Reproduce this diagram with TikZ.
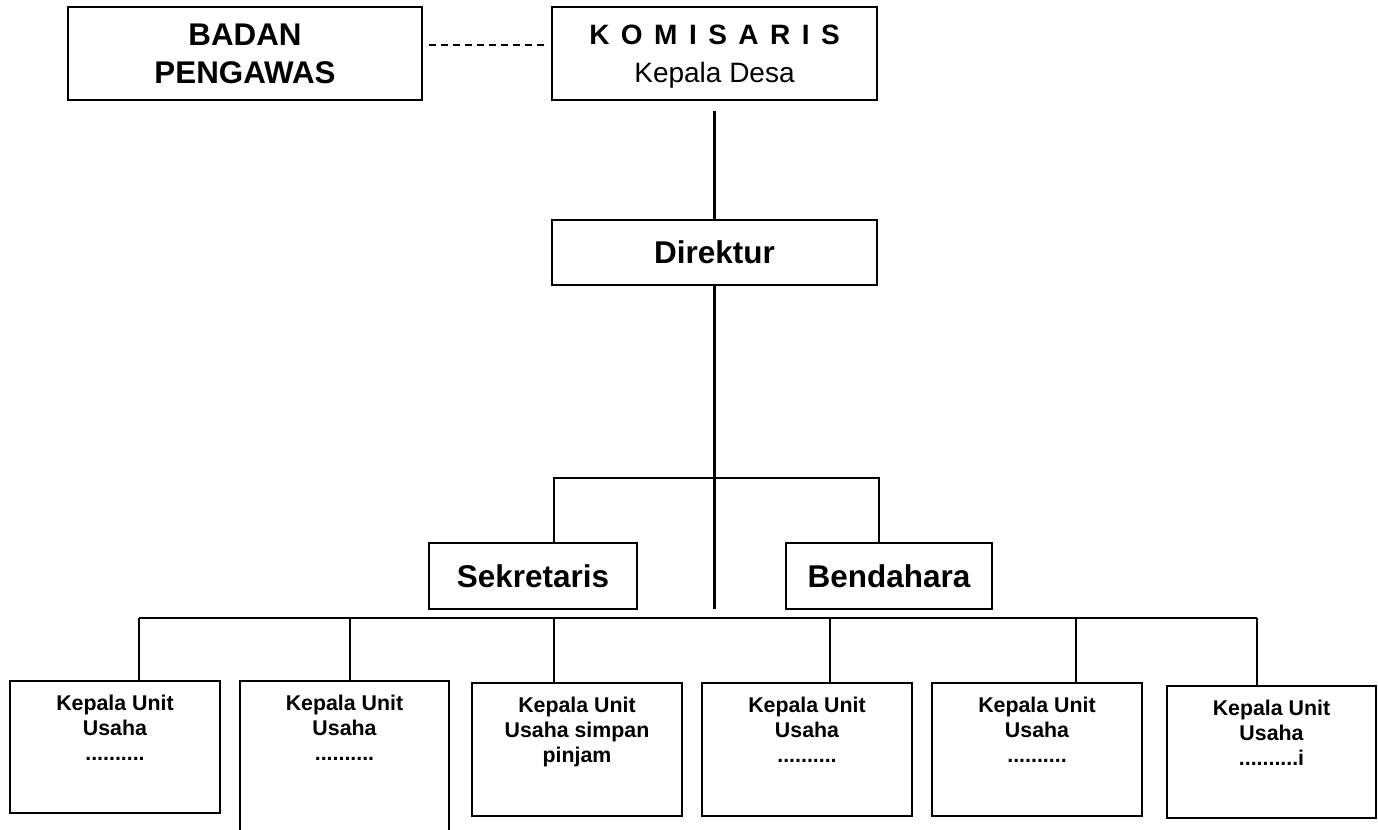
\documentclass[tikz,border=0pt]{standalone}
\usepackage{fontspec}
\setmainfont{Liberation Sans}
\usetikzlibrary{calc}
\begin{document}
\begin{tikzpicture}[x=0.75pt,y=-0.75pt,
  box/.style={draw, line width=1.8pt, inner sep=0pt, align=center},
  conn/.style={line width=1.6pt},
  dashconn/.style={line width=1.3pt, dash pattern=on 5.25pt off 3.75pt},
  bigfont/.style={font=\fontsize{23.6}{28}\selectfont\bfseries},
  utext/.style={inner sep=0pt, align=center, anchor=north, font=\fontsize{16}{18.75}\selectfont\bfseries}]
\useasboundingbox (0,0) rectangle (1378,829);
\clip (0,0) rectangle (1378,829);

% top level
\node[box, minimum width=265.5pt, minimum height=69.75pt, font=\fontsize{23.5}{28.5}\selectfont\bfseries] (badan) at (245,53.5) {BADAN\\PENGAWAS};
\node[box, minimum width=243.75pt, minimum height=69.75pt, text depth=0pt, font=\fontsize{21}{28.5}\selectfont] (komis) at (714.5,53.5)
  {{\bfseries\spaceskip=8.6pt K O M I S A R I S}\\{\fontsize{21}{28.5}\selectfont Kepala Desa}};
\node[box, bigfont, minimum width=243.75pt, minimum height=48.75pt] (dir) at (714.5,252.5) {Direktur};
\node[box, bigfont, minimum width=156pt, minimum height=49.5pt] (sek) at (533,576) {Sekretaris};
\node[box, bigfont, minimum width=154.5pt, minimum height=49.5pt] (ben) at (889,576) {Bendahara};

% unit boxes
\node[box, minimum width=157.5pt, minimum height=99pt] (u1) at (115,747) {};
\node[box, minimum width=156.75pt, minimum height=127.5pt] (u2) at (344.5,766) {};
\node[box, minimum width=157.5pt, minimum height=99.75pt] (u3) at (577,749.5) {};
\node[box, minimum width=157.5pt, minimum height=99.75pt] (u4) at (807,749.5) {};
\node[box, minimum width=157.5pt, minimum height=99.75pt] (u5) at (1037,749.5) {};
\node[box, minimum width=156.75pt, minimum height=99pt] (u6) at (1271.5,752) {};

\node[utext] (t1) at ([yshift=-11.2pt]u1.north) {Kepala Unit\\Usaha\\..........};
\node[utext] (t2) at ([yshift=-11.2pt]u2.north) {Kepala Unit\\Usaha\\..........};
\node[utext] (t3) at ([yshift=-11.2pt]u3.north) {Kepala Unit\\Usaha simpan\\pinjam};
\node[utext] (t4) at ([yshift=-11.2pt]u4.north) {Kepala Unit\\Usaha\\..........};
\node[utext] (t5) at ([yshift=-11.2pt]u5.north) {Kepala Unit\\Usaha\\..........};
\node[utext] (t6) at ([yshift=-11.2pt]u6.north) {Kepala Unit\\Usaha\\..........i};

% connectors
\draw[dashconn] ([xshift=4.5pt,yshift=6.4pt]badan.east) -- ([xshift=-4.5pt,yshift=6.4pt]komis.west);
\draw[conn] ([yshift=-7.5pt]komis.south) -- (dir.north);
\coordinate (dend) at (714.5,609);
\draw[conn] (dir.south) -- (dend);
\coordinate (j1) at (714.5,478);
\draw[conn] ([xshift=15.75pt]sek.north) |- (j1) -| ([xshift=-7.5pt]ben.north);

\coordinate (b1) at (139,618);
\coordinate (b6) at (1257,618);
\draw[conn] (b1) -- (b6);
\foreach \n/\s in {u1/18pt, u2/4.1pt, u3/-17.25pt, u4/17.25pt, u5/29.25pt, u6/-10.9pt}
  \draw[conn] ([xshift=\s]\n.north) -- ([xshift=\s]\n.north |- b1);
\end{tikzpicture}
\end{document}
